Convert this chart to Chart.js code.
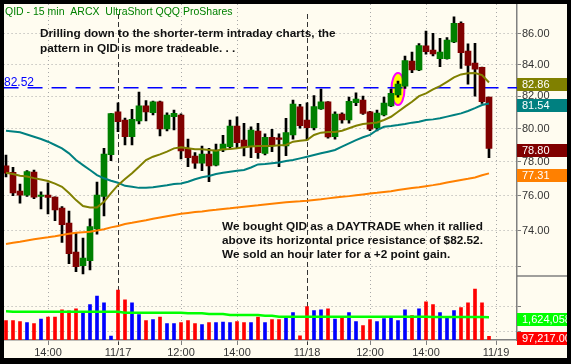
<!DOCTYPE html>
<html>
<head>
<meta charset="utf-8">
<script src="https://cdn.jsdelivr.net/npm/chart.js@4.4.1/dist/chart.umd.min.js"></script>
<style>
html, body { margin: 0; padding: 0; background: #000; }
canvas { display: block; }
</style>
</head>
<body>
<canvas id="qid" width="571" height="364"></canvas>
<script>
// QID 15 min bars, 11/14 12:45 .. 11/18 16:15
var opens  = [77.75,77.37,76.27,76.04,77.39,75.96,76.04,75.92,75.29,74.44,72.81,72.06,72.33,74.11,75.96,78.42,81.03,80.52,79.50,80.46,81.39,80.97,81.64,79.98,80.72,80.83,78.80,78.34,77.92,78.46,77.80,78.70,78.90,80.15,79.30,78.94,79.85,78.50,79.46,79.44,78.94,79.61,81.33,80.52,80.05,81.20,81.64,79.50,80.89,80.52,81.59,81.76,81.02,80.04,80.83,81.39,82.07,82.63,84.23,83.65,85.20,84.94,84.38,84.38,85.46,86.68,84.87,84.10,83.82,81.94];
var highs  = [78.40,77.67,76.68,77.47,77.51,76.23,76.76,75.94,75.37,75.12,73.87,73.59,74.67,76.80,78.80,80.93,81.59,80.64,81.18,82.26,81.72,81.70,81.70,80.97,81.14,80.90,79.36,78.54,78.94,78.80,79.06,79.59,80.52,80.72,80.32,80.11,80.32,79.67,79.95,79.67,80.62,81.76,81.49,81.59,82.04,82.44,81.66,81.03,80.97,81.94,82.20,82.01,81.05,81.14,81.94,82.44,82.95,84.55,84.81,85.35,86.18,86.03,85.70,85.74,87.12,86.79,85.33,85.37,83.84,81.94];
var lows   = [77.10,76.00,75.58,75.96,75.83,75.24,74.95,74.57,73.35,72.17,71.73,71.60,71.82,73.81,74.84,78.06,79.81,79.00,79.00,80.28,80.46,80.83,79.55,79.85,79.91,78.16,77.70,77.61,77.47,76.82,77.75,78.60,78.80,78.80,78.34,78.24,78.20,78.40,78.60,77.70,78.36,79.36,80.02,79.30,79.91,81.18,79.41,79.36,80.32,80.32,81.41,80.87,79.87,79.85,80.77,81.35,81.94,82.49,83.48,83.61,84.66,84.55,83.86,84.34,85.41,83.76,82.76,82.00,81.55,78.24];
var closes = [77.32,76.17,76.04,77.41,75.92,76.04,75.91,75.18,74.34,72.72,72.00,72.48,74.23,76.04,78.46,80.91,80.42,79.50,80.56,81.39,81.02,81.64,79.98,80.83,80.93,78.64,78.24,77.92,78.46,77.75,78.70,79.06,80.15,79.14,78.90,79.91,78.54,79.46,79.00,79.34,79.75,81.51,80.17,80.05,81.35,81.64,79.49,80.89,80.52,81.68,81.82,80.93,79.96,80.95,81.56,82.18,82.76,84.25,83.65,85.22,84.83,84.68,84.81,85.59,86.68,84.77,83.94,83.71,81.65,78.80];

var ma20  = [77.35,77.27,77.17,77.12,77.03,76.95,76.86,76.71,76.52,76.16,75.75,75.41,75.33,75.33,75.65,76.16,76.62,76.98,77.32,77.70,78.10,78.30,78.44,78.60,78.80,78.86,78.80,78.74,78.74,78.70,78.66,78.74,78.76,78.80,78.86,78.91,78.94,78.94,78.94,78.98,79.00,79.20,79.26,79.30,79.61,79.75,79.79,79.79,79.87,80.02,80.17,80.28,80.32,80.37,80.52,80.72,81.03,81.35,81.65,82.00,82.17,82.42,82.63,82.90,83.18,83.37,83.44,83.46,83.33,82.86];
var ma50  = [79.87,79.82,79.77,79.64,79.50,79.36,79.20,79.00,78.80,78.50,78.10,77.80,77.51,77.21,77.02,76.88,76.76,76.58,76.52,76.46,76.46,76.49,76.56,76.61,76.68,76.72,76.82,76.96,77.08,77.16,77.27,77.35,77.41,77.47,77.51,77.66,77.84,77.87,77.91,77.95,78.04,78.10,78.20,78.30,78.40,78.50,78.60,78.70,78.90,79.10,79.30,79.47,79.61,79.91,80.11,80.15,80.21,80.28,80.36,80.42,80.52,80.56,80.63,80.73,80.83,80.93,81.08,81.25,81.45,81.54];
var ma200 = [73.26,73.32,73.38,73.45,73.52,73.58,73.63,73.69,73.76,73.83,73.89,73.92,73.94,74.01,74.08,74.19,74.27,74.38,74.45,74.53,74.60,74.68,74.75,74.82,74.89,74.96,75.01,75.06,75.10,75.15,75.19,75.24,75.28,75.33,75.37,75.41,75.45,75.50,75.54,75.58,75.62,75.66,75.68,75.71,75.76,75.80,75.85,75.90,75.94,75.98,76.03,76.08,76.13,76.17,76.22,76.27,76.33,76.39,76.45,76.50,76.56,76.62,76.69,76.77,76.85,76.92,76.99,77.07,77.20,77.31];

var volumes = [1350000,1350000,1270000,1190000,1110000,1480000,1640000,1640000,2210000,2130000,2290000,2070000,2630000,3330000,2770000,110000,3810000,3010000,2770000,1830000,1350000,1430000,1640000,1110000,1110000,1190000,1350000,1110000,1030000,1190000,1190000,1240000,1190000,1270000,1190000,1190000,1640000,1190000,1430000,1430000,1640000,1990000,140000,2470000,2150000,2210000,2290000,1480000,1590000,1990000,1270000,950000,1430000,1270000,1510000,1590000,1350000,2210000,1750000,2290000,2850000,2630000,1990000,1590000,2150000,2390000,2770000,3890000,2770000,97217];
var volAvg = [2100000,2070000,2070000,2070000,2070000,2070000,2070000,2070000,2070000,2070000,2070000,2070000,2070000,2070000,2070000,2070000,2070000,1990000,1990000,1990000,1990000,1990000,1990000,1990000,1990000,1990000,1940000,1940000,1940000,1880000,1880000,1880000,1800000,1800000,1800000,1800000,1800000,1750000,1750000,1670000,1670000,1670000,1670000,1670000,1670000,1670000,1670000,1670000,1670000,1670000,1670000,1670000,1670000,1670000,1670000,1670000,1670000,1670000,1670000,1670000,1670000,1640000,1640000,1640000,1640000,1640000,1640000,1640000,1640000,1624058];

var tickIdx    = [6, 16, 25, 33, 43, 52, 60, 70];
var tickLabels = ['14:00', '11/17', '12:00', '14:00', '11/18', '12:00', '14:00', '11/19'];
var priceTicks = [72, 74, 76, 78, 80, 82, 84, 86];
var volTicks   = [500000, 1500000, 2500000, 3500000];
var resistance = 82.52;
var highlightBar = 56;

var title = 'QID - 15 min  ARCX  UltraShort QQQ ProShares';
var note1 = ['Drilling down to the shorter-term intraday charts, the',
             'pattern in QID is more tradeable. . .'];
var note2 = ['We bought QID as a DAYTRADE when it rallied',
             'above its horizontal price resistance of $82.52.',
             'We sold an hour later for a +2 point gain.'];

var xMin = -0.35, xMax = 73;
var FONT = "'Liberation Sans', Arial, sans-serif";

function pts(arr) {
    return arr.map(function(v, i) { return {x: i, y: v}; });
}

var bodyColors = closes.map(function(c, i) { return c >= opens[i] ? '#008000' : '#800000'; });
var volColors = closes.map(function(c, i) { return c >= opens[i] ? '#0000ff' : '#ff0000'; });

function fmtVol(v) {
    return v.toLocaleString('en-US', {minimumFractionDigits: 2, maximumFractionDigits: 2});
}

var overlay = {
    id: 'overlay',
    beforeDraw: function(chart) {
        var ctx = chart.ctx;
        ctx.save();
        ctx.fillStyle = '#000';
        ctx.fillRect(0, 0, chart.width, chart.height);
        ctx.fillStyle = '#fffcf0';
        ctx.fillRect(4, 4, 563, 354);
        ctx.restore();
    },
    beforeDatasetsDraw: function(chart) {
        var ctx = chart.ctx, xs = chart.scales.x, ys = chart.scales.y, a = chart.chartArea;
        ctx.save();
        tickIdx.forEach(function(v, i) {
            var x = Math.round(xs.getPixelForValue(v)) + 0.5;
            var day = tickLabels[i].indexOf('/') > 0 && v < closes.length;
            ctx.beginPath();
            ctx.lineWidth = 1;
            ctx.strokeStyle = day ? '#333' : '#a8a8a8';
            ctx.setLineDash(day ? [5, 3] : [1, 3]);
            ctx.moveTo(x, day ? a.top + 10 : a.top);
            ctx.lineTo(x, day ? a.bottom + 5 : a.bottom);
            ctx.stroke();
        });
        // yellow ring round the breakout bar
        var cx = xs.getPixelForValue(highlightBar);
        var top = ys.getPixelForValue(highs[highlightBar]);
        var bot = ys.getPixelForValue(lows[highlightBar]);
        ctx.setLineDash([]);
        ctx.beginPath();
        ctx.ellipse(cx, (top + bot) / 2, 6.5, (bot - top) / 2 + 8, 0, 0, Math.PI * 2);
        ctx.fillStyle = '#ffff00';
        ctx.fill();
        ctx.lineWidth = 2;
        ctx.strokeStyle = '#ff00ff';
        ctx.stroke();
        ctx.restore();
    },
    afterDraw: function(chart) {
        var ctx = chart.ctx, ys = chart.scales.y, vs = chart.scales.v, a = chart.chartArea;
        var last = closes.length - 1;
        ctx.save();
        ctx.textBaseline = 'alphabetic';
        ctx.textAlign = 'left';

        ctx.font = '10.5px ' + FONT;
        ctx.fillStyle = '#008000';
        ctx.fillText(title, 5, 15);

        ctx.font = '12px ' + FONT;
        ctx.fillStyle = '#0000ff';
        ctx.fillText(resistance.toFixed(2), 4, ys.getPixelForValue(resistance) - 2);

        ctx.font = 'bold 11.8px ' + FONT;
        ctx.fillStyle = '#111';
        note1.forEach(function(t, i) { ctx.fillText(t, 40, 36.5 + 15 * i); });
        note2.forEach(function(t, i) { ctx.fillText(t, 222, 230 + 14 * i); });

        // pane separator in the axis strip
        ctx.strokeStyle = '#808080';
        ctx.lineWidth = 1.5;
        ctx.beginPath();
        ctx.moveTo(a.right, ys.bottom);
        ctx.lineTo(chart.width, ys.bottom);
        ctx.stroke();

        // last-value boxes
        var boxes = [
            [ys, ma20[last], '#808000', ma20[last].toFixed(2)],
            [ys, ma50[last], '#008080', ma50[last].toFixed(2)],
            [ys, closes[last], '#800000', closes[last].toFixed(2)],
            [ys, ma200[last], '#ff8000', ma200[last].toFixed(2)],
            [vs, volAvg[last], '#00ff00', fmtVol(volAvg[last])],
            [vs, volumes[last], '#ff0000', fmtVol(volumes[last])]
        ];
        ctx.font = '11px ' + FONT;
        ctx.textBaseline = 'middle';
        boxes.forEach(function(b) {
            var y = b[0].getPixelForValue(b[1]) + 2;
            ctx.fillStyle = b[2];
            ctx.fillRect(a.right, Math.round(y - 6.5), 50, 13);
            ctx.fillStyle = '#fff';
            ctx.fillText(b[3], 522, y + 0.5);
        });

        // black frame
        ctx.fillStyle = '#000';
        ctx.fillRect(0, 0, 4, chart.height);
        ctx.fillRect(0, 0, chart.width, 4);
        ctx.fillRect(567, 0, 4, chart.height);
        ctx.fillRect(0, 358, chart.width, 6);
        ctx.restore();
    }
};

var ctx = document.getElementById('qid').getContext('2d');

var qidChart = new Chart(ctx, {
    type: 'bar',
    data: {
        datasets: [
            { type: 'line', data: pts(ma20), borderColor: '#808000', borderWidth: 2, pointRadius: 0, yAxisID: 'y', order: 0 },
            { type: 'line', data: pts(ma50), borderColor: '#008080', borderWidth: 2, pointRadius: 0, yAxisID: 'y', order: 1 },
            { type: 'line', data: pts(ma200), borderColor: '#ff8000', borderWidth: 2, pointRadius: 0, yAxisID: 'y', order: 2 },
            {
                data: opens.map(function(o, i) { return {x: i, y: [o, closes[i]]}; }),
                backgroundColor: bodyColors, borderWidth: 0, barThickness: 6, grouped: false,
                yAxisID: 'y', order: 3
            },
            {
                data: lows.map(function(l, i) { return {x: i, y: [l, highs[i]]}; }),
                backgroundColor: '#000', borderWidth: 0, barThickness: 2, grouped: false,
                yAxisID: 'y', order: 4
            },
            {
                type: 'line', data: [{x: xMin, y: resistance}, {x: xMax, y: resistance}],
                borderColor: '#0000ff', borderWidth: 1.5, borderDash: [15, 9], pointRadius: 0,
                yAxisID: 'y', order: 5
            },
            { type: 'line', data: pts(volAvg), borderColor: '#00ff00', borderWidth: 2.5, pointRadius: 0, yAxisID: 'v', order: 6 },
            {
                data: pts(volumes), backgroundColor: volColors, borderWidth: 0, barThickness: 3,
                grouped: false, base: -200000, yAxisID: 'v', order: 7
            }
        ]
    },
    options: {
        responsive: false,
        animation: false,
        devicePixelRatio: 1,
        layout: { padding: { left: 3.55, top: 4, right: 0, bottom: 0 } },
        plugins: { legend: { display: false }, tooltip: { enabled: false } },
        scales: {
            x: {
                type: 'linear', min: xMin, max: xMax, bounds: 'data', offset: false,
                afterBuildTicks: function(s) { s.ticks = tickIdx.map(function(v) { return {value: v}; }); },
                ticks: {
                    autoSkip: false, maxRotation: 0, padding: 1, color: '#333',
                    font: { family: FONT, size: 11 },
                    callback: function(v, i) { return tickLabels[i]; }
                },
                grid: { offset: false, drawOnChartArea: false, tickLength: 5, tickColor: '#808080' },
                border: { color: '#808080', width: 1.5 },
                afterFit: function(s) { s.height = 24; s.paddingLeft = 0; s.paddingRight = 0; }
            },
            y: {
                type: 'logarithmic', position: 'right', stack: 'pane', stackWeight: 272,
                min: 71.49, max: 87.97, bounds: 'data',
                afterBuildTicks: function(s) { s.ticks = priceTicks.map(function(v) { return {value: v}; }); },
                ticks: {
                    padding: 1, color: '#333', font: { family: FONT, size: 11 },
                    callback: function(v) { return v === 72 ? '' : Number(v).toFixed(2); }
                },
                grid: { color: '#a8a8a8', tickColor: '#808080', tickLength: 4 },
                border: { color: '#808080', width: 1.5, dash: [1, 3] },
                afterFit: function(s) { s.width = 54; s.paddingTop = 0; s.paddingBottom = 0; }
            },
            v: {
                type: 'linear', position: 'right', stack: 'pane', stackWeight: 64,
                min: -200000, max: 4930000, bounds: 'data',
                afterBuildTicks: function(s) { s.ticks = volTicks.map(function(v) { return {value: v}; }); },
                ticks: {
                    padding: 1, color: '#333', font: { family: FONT, size: 11 },
                    callback: function(v) { return v === 3500000 ? v.toLocaleString('en-US').slice(0, 7) + '...' : ''; }
                },
                grid: { color: '#a8a8a8', tickColor: '#808080', tickLength: 4 },
                border: { color: '#808080', width: 1.5, dash: [1, 3] },
                afterFit: function(s) { s.width = 54; s.paddingTop = 0; s.paddingBottom = 0; }
            }
        }
    },
    plugins: [overlay]
});
</script>
</body>
</html>
